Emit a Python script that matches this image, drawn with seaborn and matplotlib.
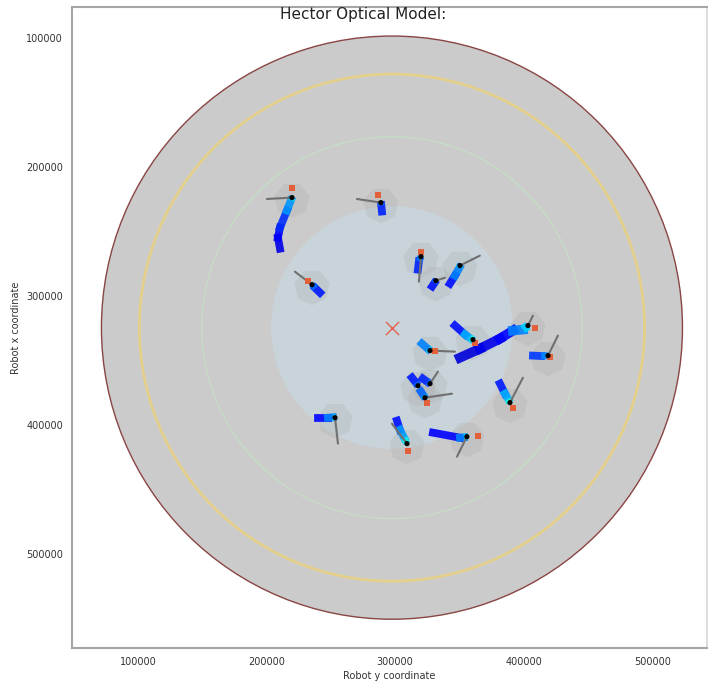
import numpy as np
import pandas as pd
import matplotlib
matplotlib.use("Agg")
import matplotlib.pyplot as plt
from matplotlib.patches import Circle, RegularPolygon
import seaborn as sns

# ---------------- data (plate / robot coordinates) ----------------
plate_center = (297500, 324500)
ring_radii = {"outer": 226000, "yellow": 196500, "green": 148000, "inner": 94000}

robot_ids = ["R1", "R2", "R3", "R4", "R5", "R6", "A", "B", "C", "D",
             "E1", "E2", "E3", "F", "G", "H", "J"]
robot_x = [219700, 288900, 235300, 320100, 331700, 350400, 360500, 403300, 327100, 418900,
           317700, 327100, 323200, 389300, 253200, 309200, 355800]
robot_y = [223700, 227600, 291200, 269500, 288100, 276400, 333800, 322900, 342300, 346200,
           369500, 367900, 378800, 382600, 394300, 414400, 409000]
arm_x = [200250, 270300, 222000, 318500, 338700, 365900, np.nan, 407200, 346500, 426600,
         np.nan, 333300, 344200, 399400, 255500, 297500, 348100]
arm_y = [224800, 224800, 281100, 288900, 285800, 268700, np.nan, 315200, 343100, 330700,
         np.nan, 358600, 375700, 363300, 414400, 398900, 424500]
head_x = [219700, 286600, 232100, 320100, np.nan, np.nan, 362100, 408800, 330900, 420500,
          np.nan, np.nan, 324700, 391600, np.nan, 310000, 364400]
head_y = [216500, 222000, 288100, 265600, np.nan, np.nan, 336100, 324500, 342300, 347500,
          np.nan, np.nan, 382600, 386500, np.nan, 420000, 408200]

trail_x = [[210400, 208800, 210400, 215800, 218900],
           [289700, 289200],
           [241500, 238000],
           [317700, 318500],
           [328800, 330500],
           [342600, 346500, 350000],
           [346500, 354300, 358500],
           [350400, 366000, 381500, 391600, 399400],
           [320800, 325500],
           [407200, 413500],
           [313100, 316000],
           [321500, 325000],
           [320000, 322000],
           [381500, 385400, 388000],
           [239900, 247700, 251500],
           [301400, 303700, 307000],
           [329400, 350400, 353500]]
trail_y = [[263300, 254800, 247000, 233800, 225800],
           [234500, 229500],
           [297400, 294000],
           [279500, 273000],
           [292500, 290000],
           [290400, 284200, 278000],
           [322900, 329800, 332800],
           [347800, 340800, 333000, 326800, 326000],
           [336900, 341000],
           [346200, 346500],
           [363300, 367000],
           [364000, 366500],
           [374000, 377000],
           [367900, 375700, 380000],
           [394300, 394300, 394000],
           [396600, 403700, 410000],
           [405900, 409800, 409500]]
trail_t = [[0.07, 0.09, 0.11, 0.17, 0.27],
           [0.10, 0.16],
           [0.10, 0.15],
           [0.10, 0.16],
           [0.10, 0.14],
           [0.10, 0.14, 0.25],
           [0.10, 0.14, 0.30],
           [0.06, 0.08, 0.09, 0.12, 0.25],
           [0.12, 0.25],
           [0.12, 0.18],
           [0.12, 0.15],
           [0.12, 0.16],
           [0.14, 0.22],
           [0.10, 0.15, 0.30],
           [0.10, 0.13, 0.25],
           [0.10, 0.14, 0.28],
           [0.08, 0.11, 0.25]]

# ---------------- style ----------------
sns.set_style("white")
plt.rcParams["font.family"] = ["DejaVu Sans"]

fig = plt.figure(figsize=(7.08, 6.90), dpi=100)
ax = fig.add_axes([72 / 708, 42 / 690, 634.5 / 708, 641 / 690])
ax.set_xlim(48600, 542200)
ax.set_ylim(572800, 76000)

cx, cy = plate_center
ax.add_patch(Circle((cx, cy), ring_radii["outer"], facecolor="#cbcbcb",
                    edgecolor="#8a4545", lw=1.0, zorder=1))
ax.add_patch(Circle((cx, cy), ring_radii["inner"], facecolor="#c8d4da",
                    edgecolor="none", zorder=1.5))
ax.add_patch(Circle((cx, cy), ring_radii["yellow"], facecolor="none",
                    edgecolor="#e4d08a", lw=2.0, zorder=2))
ax.add_patch(Circle((cx, cy), ring_radii["green"], facecolor="none",
                    edgecolor="#c6dac6", lw=1.2, zorder=2))

jet = plt.get_cmap("jet")
wide = {"B": 7.0}
for i, rid in enumerate(robot_ids):
    # shaded robot footprint
    ax.add_patch(RegularPolygon((robot_x[i], robot_y[i] + 2000), numVertices=7,
                                radius=14000, facecolor="#a9a9a9", alpha=0.25,
                                edgecolor="none", zorder=3))
    tx, ty, tt = trail_x[i], trail_y[i], trail_t[i]
    lw = wide.get(rid, 5.6)
    for k in range(len(tx) - 1):
        ax.plot([tx[k], tx[k + 1]], [ty[k], ty[k + 1]], color=jet(tt[k + 1]),
                lw=lw, solid_capstyle="projecting", alpha=0.9, zorder=4)
    ax.plot([tx[-1], robot_x[i]], [ty[-1], robot_y[i]],
            color=jet(min(tt[-1] + 0.08, 0.95)), lw=lw * 0.9,
            solid_capstyle="butt", alpha=0.9, zorder=4)
    if not np.isnan(arm_x[i]):
        ax.plot([robot_x[i], arm_x[i]], [robot_y[i], arm_y[i]], color="#707070",
                lw=1.5, zorder=5)

heads = pd.DataFrame({"x": head_x, "y": head_y}).dropna()
sns.scatterplot(data=heads, x="x", y="y", marker="s", s=18, color="#e2603a",
                edgecolor="none", ax=ax, zorder=6)
dots = pd.DataFrame({"x": robot_x, "y": robot_y, "id": robot_ids})
sns.scatterplot(data=dots, x="x", y="y", s=14, color="black", edgecolor="none",
                ax=ax, zorder=7)
ax.scatter([cx], [cy], marker="x", s=90, color="#e5604c", linewidths=1.0, zorder=8)

ax.set_xticks([100000, 200000, 300000, 400000, 500000])
ax.set_yticks([100000, 200000, 300000, 400000, 500000])
ax.tick_params(labelsize=7, labelcolor="#333333", color="#888888", length=3, width=0.8)
ax.set_xlabel("Robot y coordinate", fontsize=7, color="#333333", labelpad=3)
ax.set_ylabel("Robot x coordinate", fontsize=7, color="#333333", labelpad=4)
for s in ax.spines.values():
    s.set_color("#a5a5a5")
    s.set_linewidth(1.5)
ax.spines["right"].set_color("#dddddd")
fig.text(363 / 708, 1 - 15 / 690, "Hector Optical Model:", ha="center", va="center",
         fontsize=11, color="#222222")

fig.savefig("out.png", dpi=100)
